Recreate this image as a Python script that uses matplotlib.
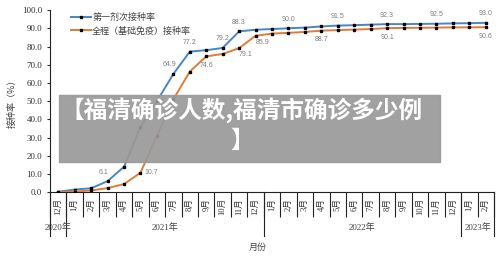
import numpy as np
import matplotlib.pyplot as plt
import matplotlib.transforms as mtransforms

# month categories, Dec 2020 .. Feb 2023
months = ['12月'] + [f'{m}月' for m in range(1, 13)] * 2 + ['1月', '2月']
years = ['2020年', '2021年', '2022年', '2023年']
year_counts = [1, 12, 12, 2]

first_dose = [0.3, 1.5, 2.2, 6.1, 14.0, 35.8, 50.0, 64.9, 77.2, 78.0, 79.2, 88.3, 89.2,
              89.6, 90.0, 90.4, 91.0, 91.5, 91.7, 92.0, 92.3, 92.3, 92.4, 92.5, 92.7, 92.8, 93.0]
full_course = [0.1, 0.4, 1.0, 2.3, 4.5, 10.7, 31.0, 51.0, 66.2, 74.6, 75.9, 79.1, 85.9,
               87.1, 87.5, 88.0, 88.7, 89.0, 89.3, 89.6, 90.1, 90.2, 90.3, 90.4, 90.5, 90.5, 90.6]

# which points carry a value label
first_labels = [3, 5, 7, 8, 10, 11, 14, 17, 20, 23, 26]
full_labels = [5, 9, 11, 12, 16, 20, 26]

blue = '#4a86c2'
orange = '#e07b39'
num_font = ['Liberation Serif', 'Noto Sans CJK SC']
cjk = ['Noto Sans CJK SC', 'DejaVu Sans']

fig = plt.figure(figsize=(5, 2.57), dpi=100)
ax = fig.add_axes([0.1, 0.2518, 0.888, 0.709])

x = np.arange(len(months))
ax.plot(x, first_dose, color=blue, lw=1.4, marker='s', ms=1.6, mfc='black', mec='black',
        label='第一剂次接种率', zorder=3)
ax.plot(x, full_course, color=orange, lw=1.4, marker='s', ms=1.6, mfc='black', mec='black',
        label='全程（基础免疫）接种率', zorder=3)

# value labels
for i in first_labels:
    dx = -3 if i in (3, 5, 7) else 0
    ax.annotate(f'{first_dose[i]:.1f}', (x[i], first_dose[i]), xytext=(dx, 4),
                textcoords='offset points', ha='center', va='bottom',
                fontsize=5, color='#7f7f7f', family='Liberation Sans')
for i in full_labels:
    if i == 5:
        off, ha, va = (3, 0), 'left', 'center'
    elif i in (11, 12):
        off, ha, va = (0, -2), 'left', 'top'
    else:
        off, ha, va = (0, -4), 'center', 'top'
    ax.annotate(f'{full_course[i]:.1f}', (x[i], full_course[i]), xytext=off,
                textcoords='offset points', ha=ha, va=va,
                fontsize=5, color='#7f7f7f', family='Liberation Sans')

ax.set_xlim(-0.5, len(months) - 0.5)
ax.set_ylim(0, 100)
yt = np.arange(0, 101, 10)
ax.set_yticks(yt, labels=[f'{v:.1f}' for v in yt])
for lab in ax.get_yticklabels():
    lab.set_family(num_font)
ax.tick_params(axis='y', labelsize=6.5, length=2.5, width=0.8, pad=3, colors='#333333')

ax.set_xticks(x, labels=months, rotation=90)
for lab in ax.get_xticklabels():
    lab.set_family(num_font)
ax.tick_params(axis='x', which='major', length=0, labelsize=6.2, pad=4, colors='#333333')
ax.set_xticks(np.arange(len(months) + 1) - 0.5, minor=True)
ax.tick_params(axis='x', which='minor', length=18, width=0.8, color='#222222')

for s in ['top', 'right']:
    ax.spines[s].set_visible(False)
ax.spines['left'].set_color('#222222')
ax.spines['bottom'].set_color('#222222')

# year separators and labels
trans = mtransforms.blended_transform_factory(ax.transData, ax.transAxes)
bounds = np.concatenate([[0], np.cumsum(year_counts)]) - 0.5
for b in bounds:
    ax.plot([b, b], [0, -0.24], transform=trans, color='#222222', lw=0.8, clip_on=False)
for k, name in enumerate(years):
    ax.text((bounds[k] + bounds[k + 1]) / 2, -0.196, name, transform=trans, ha='center',
            va='center', fontsize=6.5, family=num_font, color='#444444')

ax.text(0.468, -0.305, '月份', transform=ax.transAxes, ha='center', va='center',
        fontsize=6.5, family=cjk, color='#444444')
ax.set_ylabel('接种率（%）', family=cjk, fontsize=6.5, color='#444444', labelpad=4)

ax.legend(loc='upper left', bbox_to_anchor=(0.03, 1.03), frameon=False,
          prop={'family': cjk, 'size': 6.5}, handlelength=2.2, handletextpad=0.1,
          labelspacing=0.5, labelcolor='#444444')

# grey caption banner
fig.patches.append(plt.Rectangle((59 / 500, 1 - 162 / 257), 381 / 500, 67 / 257,
                                 transform=fig.transFigure, color='#999999', alpha=0.92, zorder=5))
fig.text(0.483, 1 - 110 / 257, '【福清确诊人数,福清市确诊多少例', ha='center', va='center',
         fontsize=17, fontweight='bold', color='white', family=cjk, zorder=6)
fig.text(0.485, 1 - 141 / 257, '】', ha='center', va='center',
         fontsize=17, fontweight='bold', color='white', family=cjk, zorder=6)

fig.savefig('out.png', dpi=100)
